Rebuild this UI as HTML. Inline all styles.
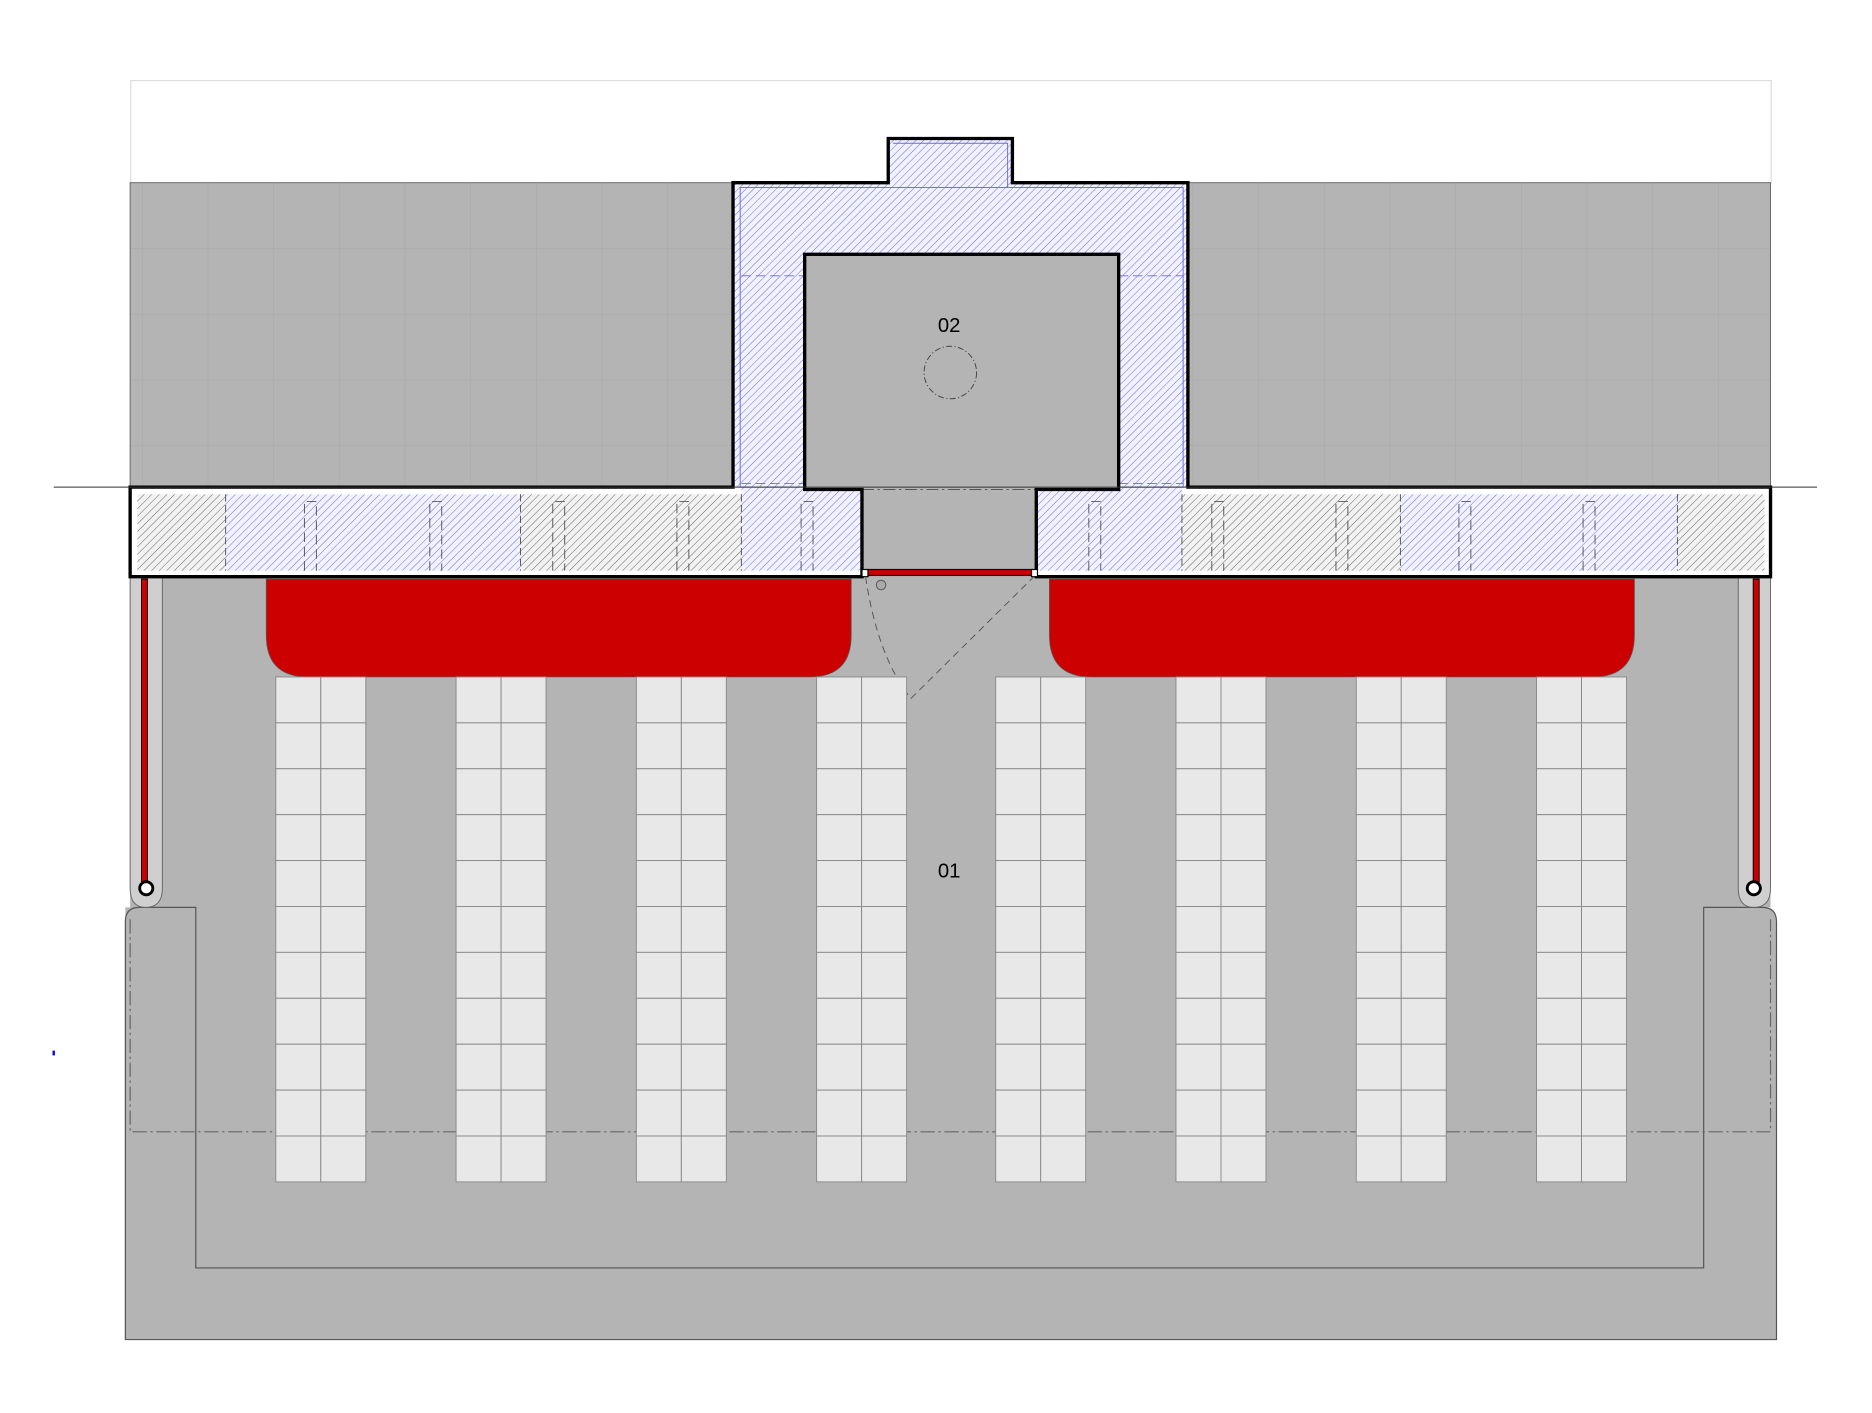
<!DOCTYPE html>
<html><head><meta charset="utf-8"><style>html,body{margin:0;padding:0;background:#fff;overflow:hidden}svg{display:block}</style></head>
<body>
<svg id="s" xmlns="http://www.w3.org/2000/svg" width="1872" height="1413" viewBox="0 0 1568 1183.5">
<defs>
<pattern id="hb" width="4.5" height="4.5" patternUnits="userSpaceOnUse" patternTransform="rotate(45)"><rect width="5" height="5" fill="#f2f2ff"/><line x1="0" y1="0" x2="0" y2="5" stroke="#5a5ae6" stroke-width="0.75"/></pattern>
<pattern id="hg" width="4.5" height="4.5" patternUnits="userSpaceOnUse" patternTransform="rotate(45)"><rect width="5" height="5" fill="#f2f2f2"/><line x1="0" y1="0" x2="0" y2="5" stroke="#555" stroke-width="0.75"/></pattern>
<pattern id="grid" x="9" y="43" width="55" height="55" patternUnits="userSpaceOnUse"><rect width="55" height="55" fill="#b4b4b4"/><path d="M0 0H55M0 0V55" stroke="#a8a8a8" stroke-width="0.8"/></pattern>
</defs>
<rect x="109.5" y="67.5" width="1374" height="86" fill="#fff" stroke="#ddd" stroke-width="1"/>
<rect x="109" y="153" width="1374" height="255" fill="url(#grid)" stroke="#666" stroke-width="0.8"/>
<path d="M109 760 H105 V1122 H1488 V772 Q1488 760 1476 760 H1483 V483 H109 Z" fill="#b4b4b4"/>
<path d="M105 772 Q105 760 117 760 H164 V1062 H1427 V760 H1476 Q1488 760 1488 772 V1122 H105 Z" fill="#b4b4b4" stroke="#555" stroke-width="1"/>
<path d="M109 770 V948 H1483 V770" fill="none" stroke="#666" stroke-width="1" stroke-dasharray="12 3 2 3"/>
<path d="M109 483 V744 Q109 760 122 760 Q136 760 136 744 V483" fill="#cfcfcf" stroke="#666" stroke-width="0.8"/>
<path d="M1456 483 V744 Q1456 760 1469 760 Q1483 760 1483 744 V483" fill="#cfcfcf" stroke="#666" stroke-width="0.8"/>
<rect x="118.5" y="485" width="5" height="255" fill="#c00" stroke="#000" stroke-width="0.8"/>
<rect x="1468.5" y="485" width="5" height="255" fill="#c00" stroke="#000" stroke-width="0.8"/>
<circle cx="122.5" cy="744" r="5.5" fill="#fff" stroke="#000" stroke-width="2.4"/>
<circle cx="1469" cy="744" r="5.5" fill="#fff" stroke="#000" stroke-width="2.4"/>
<path d="M614 408 V153 H744 V116 H848 V153 H995 V408 H937 V213 H674 V408 Z" fill="url(#hb)"/>
<rect x="109" y="408" width="614" height="75" fill="#fff"/>
<rect x="868" y="408" width="615" height="75" fill="#fff"/>
<rect x="115" y="414" width="74" height="64" fill="url(#hg)"/>
<rect x="189" y="414" width="247" height="64" fill="url(#hb)"/>
<rect x="436" y="414" width="185" height="64" fill="url(#hg)"/>
<rect x="621" y="408" width="101" height="70" fill="url(#hb)"/>
<rect x="868" y="408" width="122" height="70" fill="url(#hb)"/>
<rect x="990" y="414" width="183" height="64" fill="url(#hg)"/>
<rect x="1173" y="414" width="232" height="64" fill="url(#hb)"/>
<rect x="1405" y="414" width="73" height="64" fill="url(#hg)"/>
<g stroke="#6a6ae0" stroke-width="0.8" fill="none">
<rect x="620" y="157" width="371" height="251"/>
<path d="M621 231 H674 M937 231 H991 M621 405 H674 M937 405 H991" stroke-dasharray="8 4"/>
<path d="M748 120 H844 V157"/>
</g>
<g stroke="#555" stroke-width="0.8" fill="none" stroke-dasharray="6 3">
<path d="M189 414V478M436 414V478M621 414V478M990 414V478M1173 414V478M1405 414V478"/>
</g>
<g stroke="#555" stroke-width="0.8" fill="none" stroke-dasharray="8 4" id="pil"></g>
<rect x="674" y="213" width="263" height="197" fill="#b4b4b4"/>
<rect x="722" y="408" width="146" height="75" fill="#b4b4b4"/>
<line x1="722" y1="410" x2="868" y2="410" stroke="#555" stroke-width="0.8" stroke-dasharray="10 3 2 3"/>
<g fill="none" stroke="#000" stroke-width="2.8">
<path d="M109 408 H614 V153 H744 V116 H848 V153 H995 V408 H1483 V483 H868 V410 H937 V213 H674 V410 H722 V483 H109 Z"/>
</g>
<line x1="45" y1="408" x2="1522" y2="408" stroke="#333" stroke-width="0.8"/>
<rect x="727" y="477" width="138" height="5" fill="#c00" stroke="#000" stroke-width="1"/>
<rect x="722" y="477" width="5" height="6" fill="#fff" stroke="#000" stroke-width="1"/>
<rect x="864" y="477" width="5" height="6" fill="#fff" stroke="#000" stroke-width="1"/>
<circle cx="738" cy="490" r="4" fill="#aaa" stroke="#555" stroke-width="0.8"/>
<path d="M725 483 Q735 550 763 585 L866 483" fill="none" stroke="#555" stroke-width="0.8" stroke-dasharray="6 4"/>
<path d="M223 485 H713 V532 Q713 567 678 567 H258 Q223 567 223 532 Z" fill="#c00" stroke="#555" stroke-width="0.6"/>
<path d="M879 485 H1369 V532 Q1369 567 1334 567 H914 Q879 567 879 532 Z" fill="#c00" stroke="#555" stroke-width="0.6"/>
<g id="tiles"></g>
<circle cx="796" cy="312" r="22" fill="none" stroke="#444" stroke-width="0.8" stroke-dasharray="5 2 1 2"/>
<text x="795" y="278" font-family="Liberation Sans, sans-serif" font-size="17" text-anchor="middle">02</text>
<text x="795" y="735" font-family="Liberation Sans, sans-serif" font-size="17" text-anchor="middle">01</text>
<rect x="44" y="880" width="2" height="4" fill="#00f"/>
<script>
var ns="http://www.w3.org/2000/svg",t=document.getElementById("tiles"),p=document.getElementById("pil");
[231,382,533,684,834,985,1136,1287].forEach(function(x){
 for(var c=0;c<2;c++)for(var r=0;r<11;r++){var e=document.createElementNS(ns,"rect");
 e.setAttribute("x",x+c*37.7);e.setAttribute("y",567+r*38.45);e.setAttribute("width",37.7);e.setAttribute("height",38.45);
 e.setAttribute("fill","#e8e8e8");e.setAttribute("stroke","#8a8a8a");e.setAttribute("stroke-width","0.8");t.appendChild(e);}
});
[255,360,463,567,671,912,1015,1119,1222,1326].forEach(function(x){
 var e=document.createElementNS(ns,"path");e.setAttribute("d","M"+x+" 478V420H"+(x+10)+"V478");p.appendChild(e);});
</script>
</svg>
</body></html>
